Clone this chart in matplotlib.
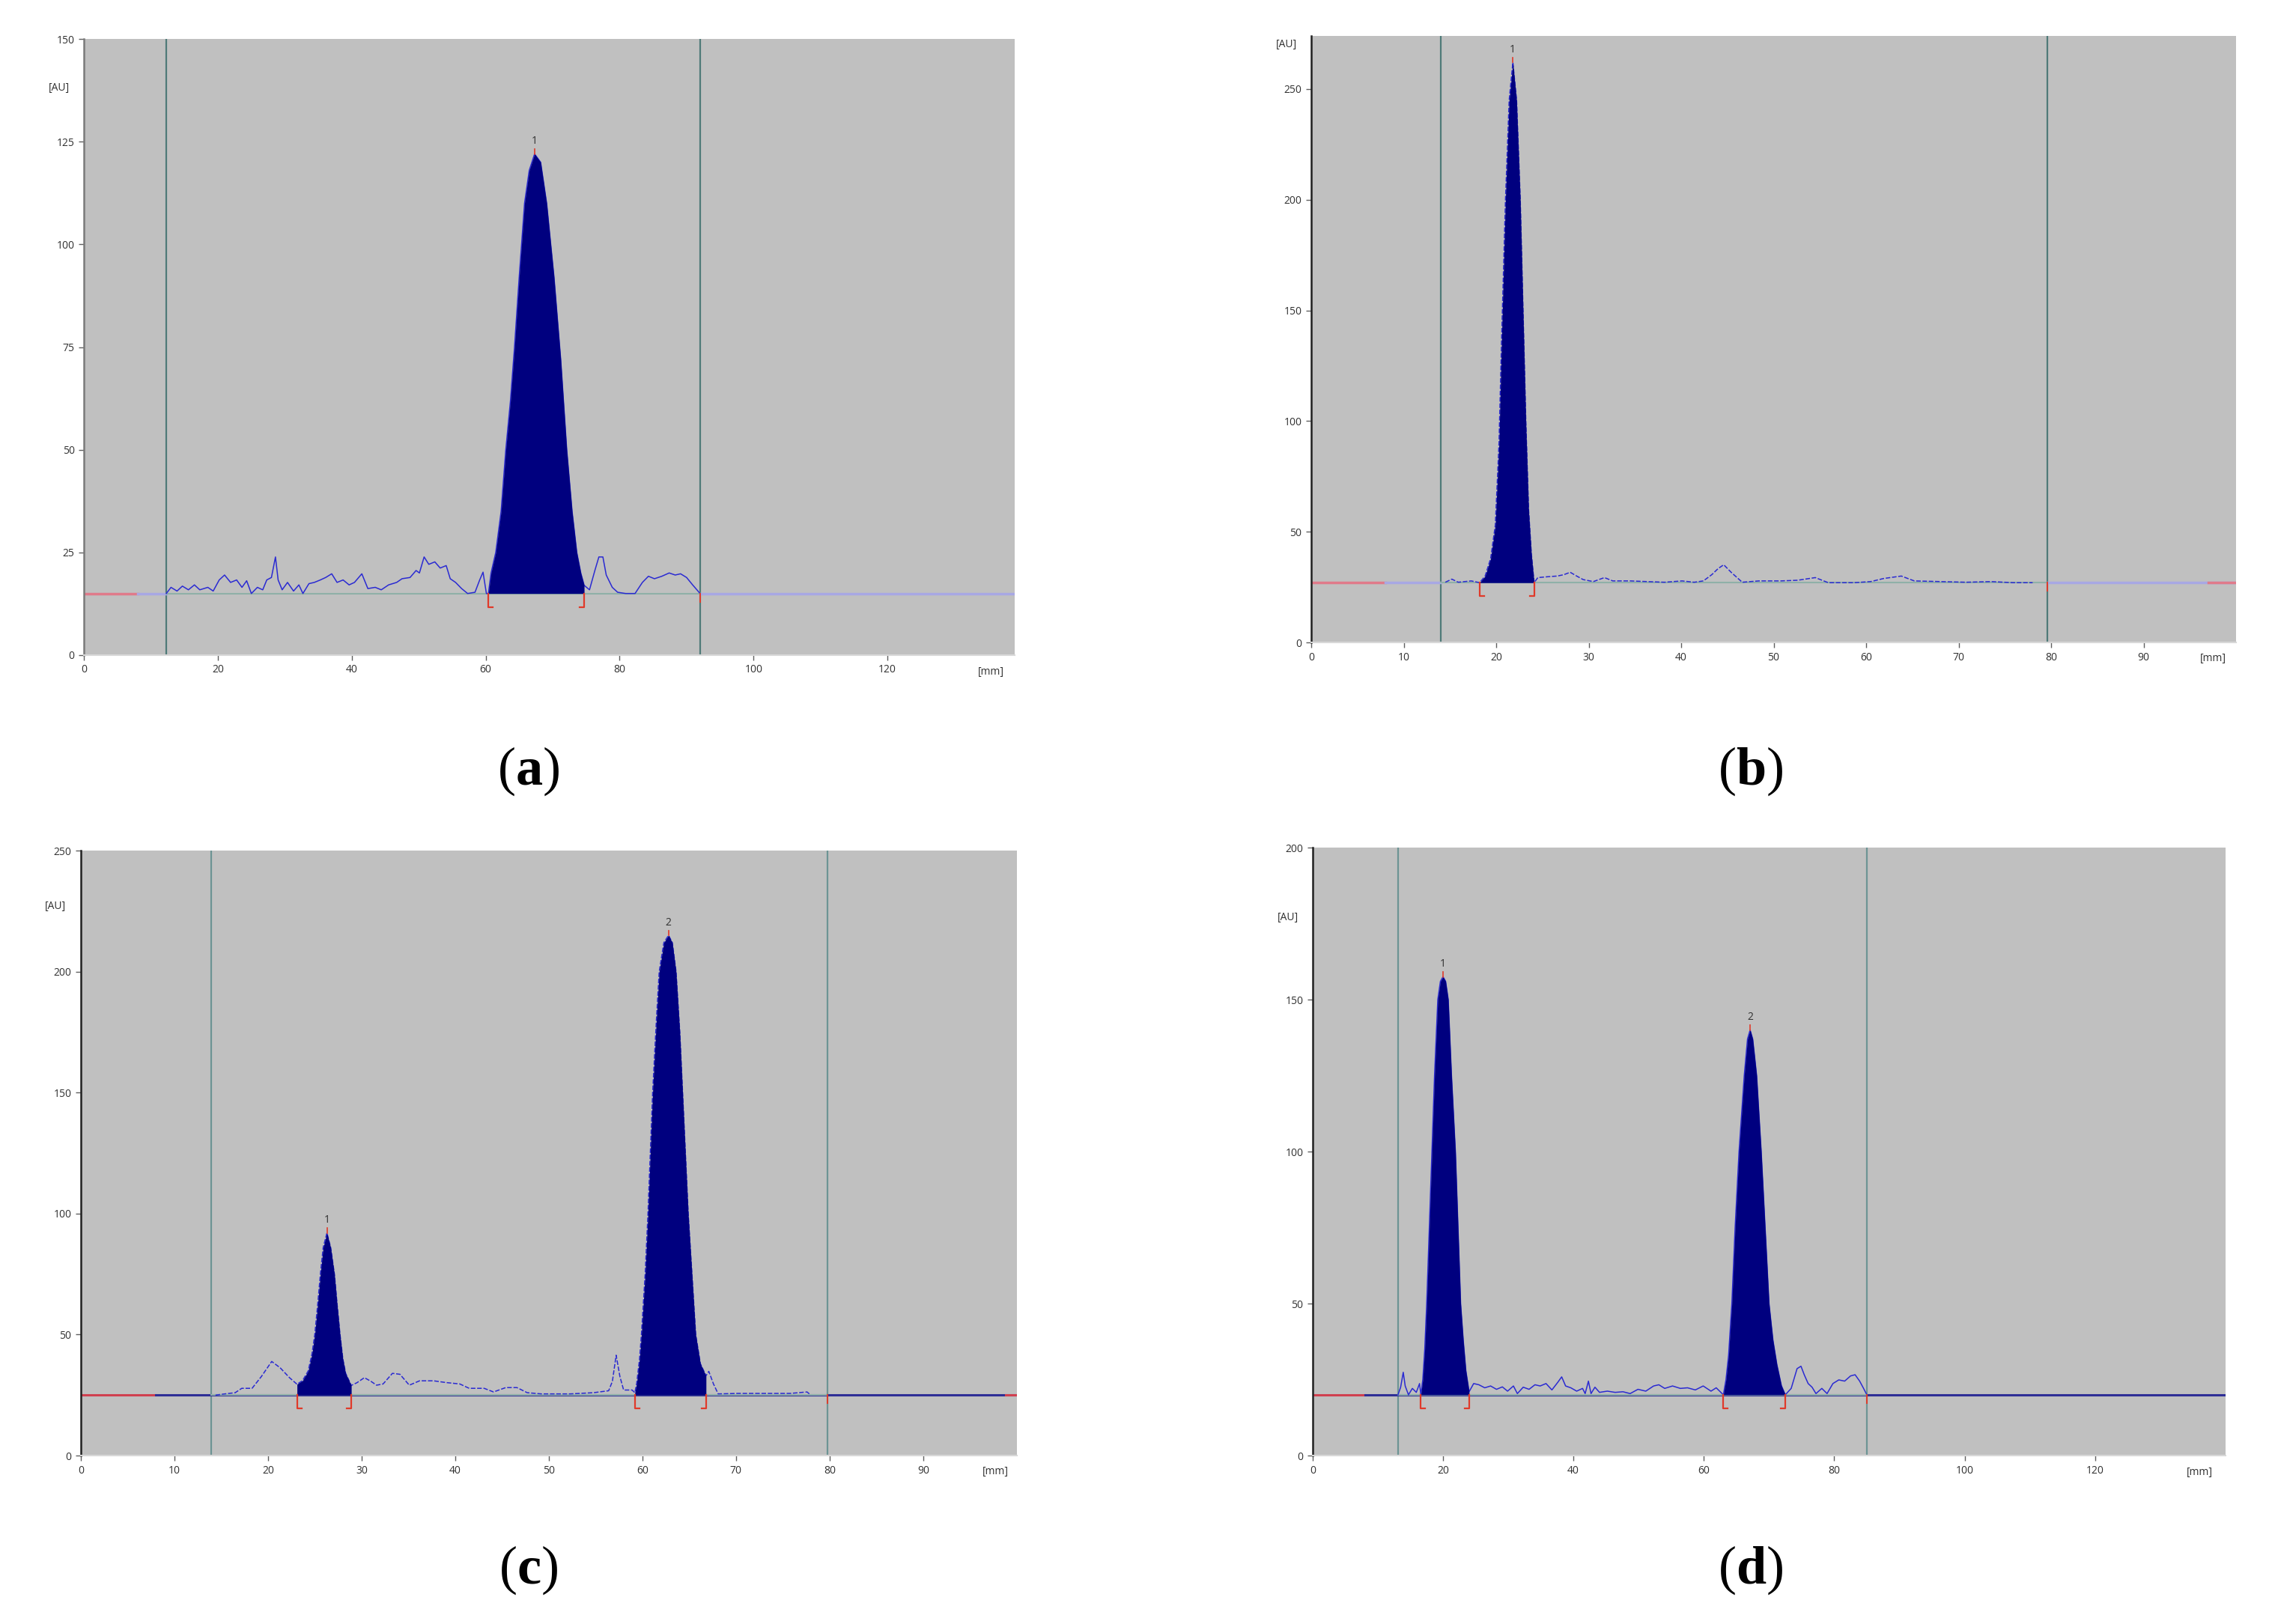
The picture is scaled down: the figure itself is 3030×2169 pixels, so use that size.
import matplotlib
matplotlib.use("Agg")
import matplotlib.pyplot as plt

plt.rcParams['mathtext.fontset'] = 'custom'
plt.rcParams['mathtext.rm'] = 'Liberation Serif'
plt.rcParams['mathtext.bf'] = 'Liberation Serif:bold'

# densitometric traces: (position mm, signal AU)
trace_a = [(12.3, 15.0), (13.0, 16.5), (13.9, 15.6), (14.7, 16.8), (15.6, 15.9), (16.5, 17.1),
           (17.3, 15.9), (18.5, 16.5), (19.3, 15.6), (20.2, 18.3), (21.0, 19.5), (21.9, 17.7),
           (22.8, 18.3), (23.6, 16.5), (24.3, 18.1), (25.0, 15.0), (25.9, 16.5), (26.7, 15.9),
           (27.3, 18.3), (28.0, 18.9), (28.6, 23.9), (29.0, 18.3), (29.6, 15.9), (30.4, 17.7),
           (31.3, 15.6), (32.1, 17.1), (32.7, 15.0), (33.6, 17.4), (34.4, 17.7), (35.3, 18.3),
           (36.1, 18.9), (37.0, 19.8), (37.8, 17.7), (38.7, 18.3), (39.6, 17.1), (40.4, 17.7),
           (41.5, 19.8), (42.4, 16.2), (43.5, 16.5), (44.4, 15.9), (45.5, 17.1), (46.7, 17.7),
           (47.5, 18.6), (48.7, 18.9), (49.6, 20.6), (50.1, 20.0), (50.8, 23.9), (51.5, 22.1),
           (52.4, 22.7), (53.2, 21.2), (54.1, 21.8), (54.7, 18.6), (55.5, 17.7), (56.4, 16.2),
           (57.3, 15.0), (58.4, 15.3), (59.1, 18.3), (59.6, 20.2), (60.1, 15.0),
           (60.4, 15.0), (60.8, 20.0), (61.5, 25.0), (62.3, 35.0), (63.0, 50.0), (63.7, 62.0),
           (64.3, 75.0), (65.0, 92.0), (65.8, 110.0), (66.5, 118.0), (67.3, 122.0), (68.2, 120.0),
           (69.1, 110.0), (70.2, 92.0), (71.2, 72.0), (72.1, 50.0), (72.9, 35.0), (73.6, 25.0),
           (74.2, 20.0), (74.7, 17.0),
           (75.5, 15.9), (76.3, 20.6), (76.9, 23.9), (77.5, 23.9), (78.0, 19.5), (78.9, 16.5),
           (79.7, 15.3), (80.9, 15.0), (82.3, 15.0), (83.4, 17.7), (84.3, 19.2), (85.2, 18.6),
           (86.3, 19.2), (87.4, 20.0), (88.3, 19.5), (89.1, 19.8), (90.0, 18.9), (90.9, 17.1),
           (91.7, 15.6), (92.0, 15.0)]

trace_b = [(14.5, 27.2), (15.2, 28.6), (15.9, 27.2), (16.6, 27.5), (17.3, 27.8), (18.2, 27.0),
           (18.8, 30.0), (19.4, 38.0), (19.9, 53.0), (20.3, 90.0), (20.6, 140.0), (21.0, 200.0),
           (21.4, 245.0), (21.8, 262.0), (22.2, 245.0), (22.6, 200.0), (22.9, 150.0), (23.2, 100.0),
           (23.5, 60.0), (23.8, 40.0), (24.1, 27.0),
           (24.5, 29.3), (25.6, 29.7), (26.6, 30.0), (27.3, 30.6), (28.0, 31.7), (28.7, 30.0),
           (29.4, 28.4), (30.5, 27.5), (31.7, 29.3), (32.6, 27.8), (34.5, 27.8), (36.3, 27.5),
           (38.2, 27.2), (40.1, 27.8), (41.4, 27.2), (42.4, 27.8), (43.3, 30.6), (44.0, 33.4),
           (44.6, 35.1), (45.4, 31.7), (46.6, 27.2), (48.4, 27.8), (50.8, 27.8), (52.6, 28.1),
           (54.5, 29.3), (55.9, 27.0), (58.7, 27.0), (60.5, 27.5), (61.9, 28.9), (63.8, 30.0),
           (65.2, 27.8), (68.0, 27.5), (70.8, 27.2), (73.5, 27.5), (75.9, 27.0), (78.0, 27.0)]

trace_c = [(14.4, 25.0), (15.4, 25.5), (16.5, 26.0), (17.2, 27.8), (18.3, 27.8), (19.3, 32.7),
           (20.4, 38.9), (21.3, 36.3), (22.3, 32.2), (23.1, 29.5),
           (23.7, 31.0), (24.3, 35.0), (24.7, 42.0), (25.0, 50.0), (25.3, 62.0), (25.6, 75.0),
           (25.9, 86.0), (26.3, 92.0), (26.7, 86.0), (27.1, 75.0), (27.4, 62.0), (27.7, 50.0),
           (28.0, 40.0), (28.3, 34.0), (28.9, 29.0),
           (29.5, 30.1), (30.3, 32.2), (31.0, 30.7), (31.6, 29.1), (32.3, 29.6), (33.3, 34.0),
           (34.1, 33.6), (35.1, 29.1), (36.2, 30.9), (37.7, 30.9), (39.0, 30.2), (40.5, 29.6),
           (41.5, 27.8), (43.1, 27.8), (44.1, 26.3), (45.4, 28.1), (46.6, 28.1), (47.7, 26.0),
           (49.2, 25.5), (52.3, 25.5), (54.8, 26.0), (56.4, 26.8), (56.8, 30.7), (57.2, 41.5),
           (57.6, 32.7), (58.0, 27.1), (58.9, 27.1),
           (59.2, 26.0), (59.4, 30.0), (59.7, 40.0), (59.9, 50.0), (60.3, 75.0), (60.6, 100.0),
           (60.9, 130.0), (61.1, 150.0), (61.5, 180.0), (61.8, 200.0), (62.3, 212.0), (62.8, 215.0),
           (63.2, 212.0), (63.6, 200.0), (64.0, 175.0), (64.3, 150.0), (64.6, 125.0), (64.9, 100.0),
           (65.3, 75.0), (65.7, 50.0), (66.2, 38.0), (66.8, 33.0),
           (67.1, 34.8), (67.6, 29.6), (68.1, 25.5), (70.2, 25.7), (73.3, 25.7), (75.8, 25.7),
           (77.6, 26.3), (77.9, 25.3)]

trace_d = [(13.1, 20.0), (13.5, 22.5), (13.9, 27.4), (14.2, 22.9), (14.7, 20.0), (15.3, 22.1),
           (15.9, 20.8), (16.4, 23.7),
           (16.6, 20.0), (16.9, 25.0), (17.2, 35.0), (17.5, 50.0), (17.9, 75.0), (18.3, 100.0),
           (18.7, 125.0), (19.2, 150.0), (19.6, 156.0), (20.0, 157.5), (20.4, 156.0), (20.8, 150.0),
           (21.3, 125.0), (21.9, 100.0), (22.3, 75.0), (22.7, 50.0), (23.1, 38.0), (23.5, 28.0),
           (24.0, 21.0),
           (24.7, 23.7), (25.5, 23.3), (26.4, 22.3), (27.3, 22.9), (28.2, 21.8), (29.1, 22.6),
           (29.9, 21.2), (30.8, 22.9), (31.4, 20.4), (32.3, 22.5), (33.2, 21.8), (34.1, 23.3),
           (34.9, 22.9), (35.8, 23.7), (36.7, 21.6), (37.6, 24.1), (38.2, 25.9), (38.8, 22.9),
           (39.6, 22.3), (40.5, 21.2), (41.4, 22.1), (41.8, 20.4), (42.3, 24.5), (42.7, 20.4),
           (43.3, 22.5), (44.0, 20.8), (45.2, 21.2), (46.4, 20.8), (47.6, 21.0), (48.7, 20.4),
           (49.9, 21.8), (51.1, 21.2), (52.3, 22.9), (53.1, 23.3), (54.0, 22.1), (55.2, 22.9),
           (56.4, 22.1), (57.5, 22.3), (58.7, 21.6), (59.9, 22.9), (61.1, 21.2), (61.9, 22.3),
           (62.8, 20.4),
           (63.0, 20.0), (63.4, 25.0), (63.8, 33.0), (64.3, 50.0), (64.8, 75.0), (65.4, 100.0),
           (66.2, 125.0), (66.7, 137.0), (67.1, 140.0), (67.5, 137.0), (68.1, 125.0), (68.8, 100.0),
           (69.4, 75.0), (70.0, 50.0), (70.6, 38.0), (71.2, 30.0), (71.9, 23.0), (72.5, 20.0),
           (73.4, 22.1), (74.3, 28.6), (74.9, 29.4), (75.4, 26.6), (76.0, 23.7), (76.6, 22.5),
           (77.2, 20.4), (78.1, 22.1), (78.9, 20.4), (79.8, 23.7), (80.7, 24.9), (81.6, 24.5),
           (82.5, 26.2), (83.2, 26.6), (83.9, 24.5), (84.5, 22.1), (85.0, 20.0)]

# integration windows (start, end) in mm
peaks_a = [(60.4, 74.7)]
peaks_b = [(18.2, 24.1)]
peaks_c = [(23.1, 28.9), (59.2, 66.8)]
peaks_d = [(16.6, 24.0), (63.0, 72.5)]

baselines = {'a': 15, 'b': 27, 'c': 25, 'd': 20}
scan_limits = {'a': (12.3, 92.0), 'b': (14.0, 79.6), 'c': (13.9, 79.8), 'd': (13.1, 85.0)}

GRAY = '#c0c0c0'
NAVY = '#00007f'
LINE = '#2a2ad2'
PINK = '#e07a8a'
LAV = '#a8a8e4'
TEAL = '#4f7a78'


def panel(rect, name, trace, peaks, xmax, ymax, xticks, yticks, au_y, mm_x,
          base_style, dashed, tag_xy):
    ax = fig.add_axes(rect)
    ax.set_facecolor(GRAY)
    base = baselines[name]
    lo, hi = scan_limits[name]
    xs = [p[0] for p in trace]
    ys = [p[1] for p in trace]

    # baseline outside the scan window
    if base_style == 'light':
        ax.plot([0, 8], [base, base], color=PINK, lw=2.5, zorder=2)
        ax.plot([8, lo], [base, base], color=LAV, lw=2.5, zorder=2)
        ax.plot([hi, xmax], [base, base], color=LAV, lw=2.5, zorder=2)
        if name == 'b':
            ax.plot([xmax - 3, xmax], [base, base], color=PINK, lw=2.5, zorder=3)
    else:
        ax.plot([0, 8], [base, base], color='#d04050', lw=2.2, zorder=2)
        ax.plot([8, xmax], [base, base], color='#2e2e96', lw=2.2, zorder=2)
        if name == 'c':
            ax.plot([xmax - 1.2, xmax], [base, base], color='#d04050', lw=2.2, zorder=3)
    ax.plot([lo, hi], [base, base], color='#8fb0a8', lw=1.5, zorder=2)

    for v in (lo, hi):
        ax.axvline(v, color=TEAL if name in 'ab' else '#6d9494', lw=1.6, zorder=1)

    # integrated peaks
    for s, e in peaks:
        px = [x for x in xs if s <= x <= e]
        py = [y for x, y in zip(xs, ys) if s <= x <= e]
        ax.fill_between(px, base, py, color=NAVY, lw=0, zorder=4)

    ax.plot(xs, ys, color=LINE, lw=1.1, zorder=3,
            linestyle=(0, (4, 1.5)) if dashed else '-')

    # integration brackets and peak numbers
    dy = ymax * 0.022
    w = xmax * 0.005
    for i, (s, e) in enumerate(peaks):
        ax.plot([s + w, s, s], [base - dy, base - dy, base], color='#e03a2a', lw=1.6, zorder=5)
        ax.plot([e - w, e, e], [base - dy, base - dy, base], color='#e03a2a', lw=1.6, zorder=5)
        seg = [(x, y) for x, y in trace if s <= x <= e]
        tx, ty = max(seg, key=lambda p: p[1])
        ax.plot([tx, tx], [ty, ty + ymax * 0.008], color='#e03a2a', lw=1.2, zorder=5)
        ax.text(tx, ty + ymax * 0.012, str(i + 1), ha='center', va='bottom',
                fontsize=10, color='#303030', family='Open Sans')
    ax.plot([hi, hi], [base, base - dy * 0.6], color='#e03a2a', lw=1.4, zorder=5)

    ax.set_xlim(0, xmax)
    ax.set_ylim(0, ymax)
    ax.set_xticks(xticks)
    ax.set_yticks(yticks)
    for s in ('top', 'right'):
        ax.spines[s].set_visible(False)
    ax.spines['left'].set_color('#7a7a7a' if name == 'a' else '#202020')
    ax.spines['left'].set_linewidth(1.8)
    ax.spines['bottom'].set_color('#d8d8d8')
    ax.spines['bottom'].set_linewidth(1.5)
    ax.tick_params(axis='both', length=5, width=1, color='#606060', labelsize=10,
                   labelcolor='#303030', pad=4)
    for lab in ax.get_xticklabels() + ax.get_yticklabels():
        lab.set_family('Open Sans')
    ax.text(-0.027, au_y, '[AU]', transform=ax.get_yaxis_transform(), ha='center',
            va='center', fontsize=10, color='#303030', family='Open Sans')
    ax.text(mm_x, -0.027, '[mm]', transform=ax.get_xaxis_transform(), ha='center',
            va='center', fontsize=10, color='#303030', family='Open Sans')
    fig.text(tag_xy[0], tag_xy[1], '(' + r'$\mathbf{' + name + '}$' + ')', ha='center',
             va='center', fontsize=52, family='Liberation Serif', color='black')
    return ax


fig = plt.figure(figsize=(30.3, 21.69), dpi=100)

panel([0.0370, 0.5966, 0.4102, 0.3794], 'a', trace_a, peaks_a, 139, 150,
      range(0, 121, 20), range(0, 151, 25), 138, 135.5, 'light', False, (0.2327, 0.525))
panel([0.5779, 0.6044, 0.4076, 0.3735], 'b', trace_b, peaks_b, 100, 274,
      range(0, 91, 10), range(0, 251, 50), 270, 97.5, 'light', True, (0.7716, 0.525))
panel([0.0356, 0.1037, 0.4125, 0.3725], 'c', trace_c, peaks_c, 100, 250,
      range(0, 91, 10), range(0, 251, 50), 227, 97.7, 'dark', True, (0.2327, 0.033))
panel([0.5785, 0.1037, 0.4023, 0.3744], 'd', trace_d, peaks_d, 140, 200,
      range(0, 121, 20), range(0, 201, 50), 177, 136, 'dark', False, (0.7716, 0.033))

fig.savefig('out.png', dpi=100)
